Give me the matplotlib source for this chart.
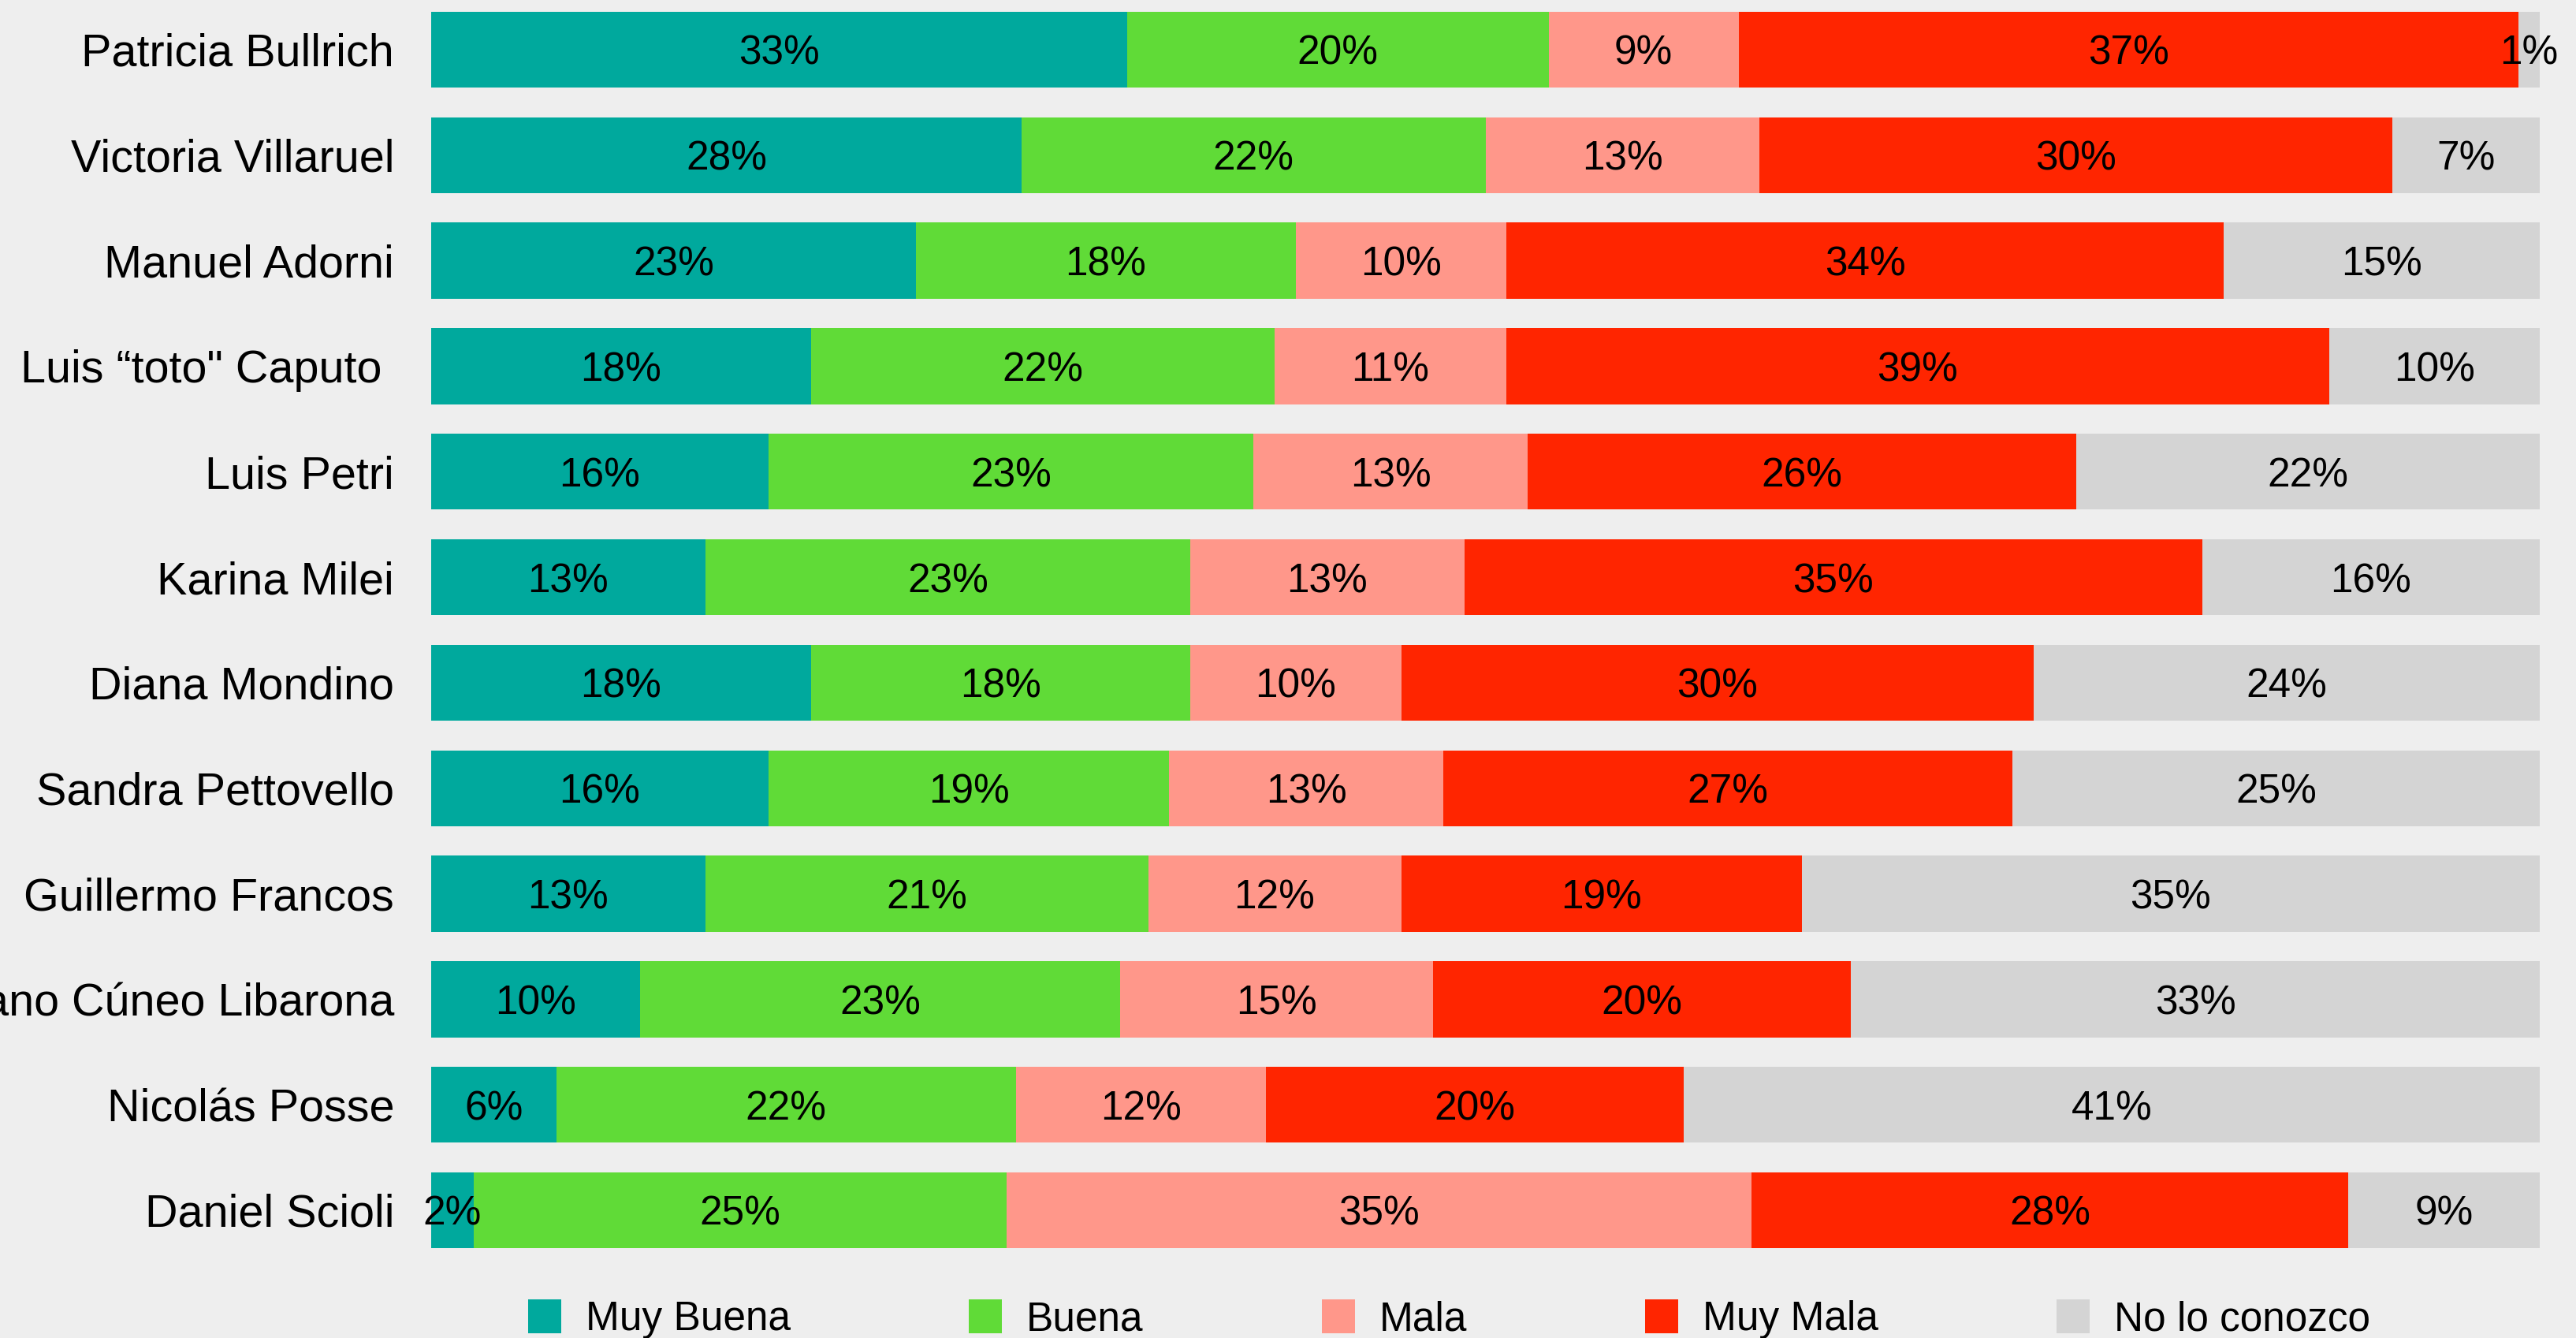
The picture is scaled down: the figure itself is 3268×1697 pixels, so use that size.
import matplotlib.pyplot as plt
import numpy as np
from matplotlib.patches import Patch

plt.rcParams['font.family'] = ['Liberation Sans', 'DejaVu Sans']

names = ['Patricia Bullrich', 'Victoria Villaruel', 'Manuel Adorni',
         'Luis \u201ctoto" Caputo ', 'Luis Petri', 'Karina Milei',
         'Diana Mondino', 'Sandra Pettovello', 'Guillermo Francos',
         'Mariano C\u00faneo Libarona', 'Nicol\u00e1s Posse', 'Daniel Scioli']
categories = ['Muy Buena', 'Buena', 'Mala', 'Muy Mala', 'No lo conozco']

muy_buena = [33, 28, 23, 18, 16, 13, 18, 16, 13, 10, 6, 2]
buena = [20, 22, 18, 22, 23, 23, 18, 19, 21, 23, 22, 25]
mala = [9, 13, 10, 11, 13, 13, 10, 13, 12, 15, 12, 35]
muy_mala = [37, 30, 34, 39, 26, 35, 30, 27, 19, 20, 20, 28]
no_conozco = [1, 7, 15, 10, 22, 16, 24, 25, 35, 33, 41, 9]

colors = ['#00A99D', '#60DB37', '#FF978A', '#FF2500', '#D4D4D4']
bg = '#EEEEEE'

W, H = 3268, 1697
fig = plt.figure(figsize=(W / 100, H / 100), dpi=100, facecolor=bg)
# panel placed in pixel coords: bars from x=547 to 3222, rows 63..1535
row_h = (1535 - 63) / 11.0
top_px = 63 - 0.5 * row_h
bot_px = 1535 + 0.5 * row_h
ax = fig.add_axes([547 / W, (H - bot_px) / H, (3222 - 547) / W, (bot_px - top_px) / H])
ax.set_facecolor(bg)

series = [muy_buena, buena, mala, muy_mala, no_conozco]
data = np.array(series, dtype=float)
shares = data / data.sum(axis=0)  # each bar filled to 100%
y = np.arange(len(names))
left = np.zeros(len(names))

for vals, share, cat, col in zip(series, shares, categories, colors):
    ax.barh(y, share, left=left, height=0.72, color=col, label=cat)
    for i in range(len(names)):
        ax.text(left[i] + share[i] / 2, y[i], '%d%%' % vals[i],
                ha='center', va='center_baseline', fontsize=37, color='black')
    left = left + share

ax.set_xlim(0, 1)
ax.set_ylim(len(names) - 0.5, -0.5)
ax.set_xticks([])
ax.set_yticks(y)
ax.set_yticklabels(names, fontsize=41.4, color='black')
ax.tick_params(axis='y', length=0, pad=33.8)
for s in ax.spines.values():
    s.set_visible(False)

handles = [Patch(facecolor=c, label=cat) for c, cat in zip(colors, categories)]
fig.legend(handles=handles, loc='center left', bbox_to_anchor=(670 / W, 24 / H),
           ncol=5, frameon=False, fontsize=37, handlelength=0.82, handleheight=0.9,
           handletextpad=0.6, columnspacing=4.4, borderpad=0, borderaxespad=0)

fig.savefig('out.png', dpi=100, facecolor=bg)
